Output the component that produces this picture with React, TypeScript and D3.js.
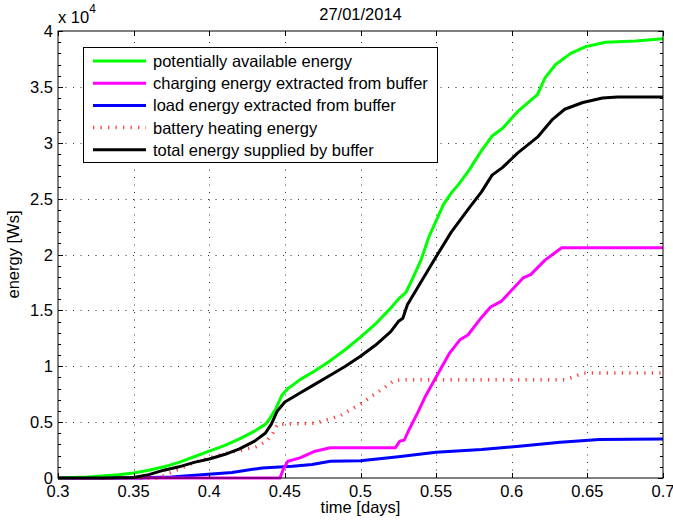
import React, { useEffect, useRef } from "react";
import * as d3 from "d3";

const W = 673;
const H = 525;
const margin = { top: 31, right: 10, bottom: 47, left: 58 };
const FONT = "'Liberation Sans', Arial, Helvetica, sans-serif";

// time [days] / energy [Ws]
const greenT = [0.3, 0.32, 0.34, 0.35, 0.36, 0.37, 0.38, 0.39, 0.4, 0.41, 0.42, 0.43, 0.437, 0.44, 0.444, 0.448, 0.452, 0.46, 0.47, 0.48, 0.49, 0.5, 0.51, 0.52, 0.525, 0.53, 0.535, 0.54, 0.545, 0.55, 0.555, 0.56, 0.565, 0.572, 0.58, 0.587, 0.594, 0.604, 0.617, 0.622, 0.629, 0.639, 0.649, 0.662, 0.682, 0.7];
const greenE = [0, 100, 300, 450, 700, 1000, 1400, 1900, 2400, 2900, 3500, 4200, 4800, 5300, 6200, 7400, 8000, 8800, 9600, 10500, 11500, 12600, 13800, 15200, 16000, 16600, 18000, 19500, 21500, 23000, 24500, 25500, 26300, 27600, 29300, 30600, 31300, 32800, 34300, 35800, 37000, 38000, 38600, 39000, 39100, 39300];

const blackT = [0.3, 0.33, 0.35, 0.36, 0.37, 0.38, 0.39, 0.4, 0.41, 0.42, 0.43, 0.437, 0.441, 0.445, 0.45, 0.46, 0.47, 0.48, 0.49, 0.5, 0.51, 0.52, 0.525, 0.528, 0.531, 0.538, 0.55, 0.56, 0.572, 0.58, 0.587, 0.594, 0.604, 0.617, 0.627, 0.635, 0.647, 0.66, 0.67, 0.7];
const blackE = [0, 0, 50, 300, 700, 1000, 1400, 1700, 2100, 2600, 3300, 4000, 4800, 6000, 6800, 7600, 8400, 9200, 10000, 10900, 11900, 13100, 14000, 14300, 15500, 17100, 19800, 22000, 24200, 25600, 27100, 27800, 29100, 30500, 32100, 33000, 33600, 34000, 34100, 34100];

const magentaT = [0.3, 0.4468, 0.449, 0.452, 0.46, 0.47, 0.48, 0.523, 0.526, 0.529, 0.532, 0.538, 0.5425, 0.549, 0.559, 0.566, 0.571, 0.579, 0.586, 0.593, 0.6075, 0.6125, 0.622, 0.633, 0.7];
const magentaE = [0, 0, 800, 1500, 1800, 2400, 2700, 2700, 3300, 3400, 4300, 5900, 7200, 8800, 11200, 12400, 12800, 14200, 15300, 15800, 17900, 18200, 19500, 20600, 20600];

const blueT = [0.3, 0.355, 0.36, 0.375, 0.395, 0.415, 0.435, 0.455, 0.468, 0.48, 0.5, 0.525, 0.55, 0.58, 0.605, 0.632, 0.658, 0.7];
const blueE = [0, 0, 50, 100, 300, 500, 900, 1050, 1200, 1500, 1550, 1900, 2300, 2550, 2850, 3200, 3450, 3500];

const redT = [0.3, 0.365, 0.37, 0.38, 0.39, 0.405, 0.418, 0.431, 0.438, 0.442, 0.445, 0.47, 0.48, 0.487, 0.493, 0.5, 0.506, 0.516, 0.522, 0.527, 0.635, 0.64, 0.647, 0.7];
const redE = [0, 0, 200, 800, 1400, 2000, 2400, 2800, 3300, 4000, 4800, 4900, 5300, 5600, 6100, 6600, 7200, 8100, 8700, 8800, 8800, 9000, 9400, 9400];

const xTicks = [0.3, 0.35, 0.4, 0.45, 0.5, 0.55, 0.6, 0.65, 0.7];
const xTickLabels = ["0.3", "0.35", "0.4", "0.45", "0.5", "0.55", "0.6", "0.65", "0.7"];
const yTicks = [0, 5000, 10000, 15000, 20000, 25000, 30000, 35000, 40000];
const yTickLabels = ["0", "0.5", "1", "1.5", "2", "2.5", "3", "3.5", "4"];

const seriesNames = [
  "potentially available energy",
  "charging energy extracted from buffer",
  "load energy extracted from buffer",
  "battery heating energy",
  "total energy supplied by buffer",
];
const seriesColors = ["#00ff00", "#ff00ff", "#0000ff", "#ff2020", "#000000"];

function draw(svgEl) {
  const svg = d3.select(svgEl);
  svg.selectAll("*").remove();

  const pw = W - margin.left - margin.right;
  const ph = H - margin.top - margin.bottom;

  const x = d3.scaleLinear().domain([0.3, 0.7]).range([margin.left, margin.left + pw]);
  const y = d3.scaleLinear().domain([0, 40000]).range([margin.top + ph, margin.top]);

  svg.append("rect").attr("width", W).attr("height", H).attr("fill", "#fff");

  // grid
  const grid = svg.append("g").attr("stroke", "#333").attr("stroke-width", 1).attr("stroke-dasharray", "1,6.5");
  xTicks.slice(1, -1).forEach(t => {
    grid.append("line")
      .attr("x1", Math.round(x(t)) + 0.5).attr("x2", Math.round(x(t)) + 0.5)
      .attr("y1", y(0)).attr("y2", y(40000));
  });
  yTicks.slice(1, -1).forEach(t => {
    grid.append("line")
      .attr("y1", Math.round(y(t)) + 0.5).attr("y2", Math.round(y(t)) + 0.5)
      .attr("x1", x(0.3)).attr("x2", x(0.7));
  });

  // series
  const line = d3.line().x(d => x(d[0])).y(d => y(d[1]));
  const series = [
    { t: greenT, e: greenE, c: seriesColors[0], dash: null },
    { t: magentaT, e: magentaE, c: seriesColors[1], dash: null },
    { t: blueT, e: blueE, c: seriesColors[2], dash: null },
    { t: redT, e: redE, c: seriesColors[3], dash: "1.3,6.2" },
    { t: blackT, e: blackE, c: seriesColors[4], dash: null },
  ];
  const drawOrder = [2, 1, 3, 0, 4];
  drawOrder.forEach(i => {
    const s = series[i];
    const pts = s.t.map((t, k) => [t, s.e[k]]);
    svg.append("path")
      .attr("d", line(pts))
      .attr("fill", "none")
      .attr("stroke", s.c)
      .attr("stroke-width", s.dash ? 3.5 : 3)
      .attr("stroke-linejoin", "round")
      .attr("stroke-dasharray", s.dash)
      .attr("opacity", s.dash ? 0.85 : 1);
  });

  // box + ticks
  const x0 = x(0.3), x1 = x(0.7), y0 = y(0), y1 = y(40000);
  const ax = svg.append("g").attr("stroke", "#000").attr("stroke-width", 1);
  ax.append("rect").attr("x", x0).attr("y", y1).attr("width", x1 - x0).attr("height", y0 - y1).attr("fill", "none");
  xTicks.forEach(t => {
    const px = Math.round(x(t)) + 0.5;
    ax.append("line").attr("x1", px).attr("x2", px).attr("y1", y0).attr("y2", y0 - 5);
    ax.append("line").attr("x1", px).attr("x2", px).attr("y1", y1).attr("y2", y1 + 5);
  });
  d3.range(0, 40001, 1000).forEach(t => {
    const py = Math.round(y(t)) + 0.5;
    const len = t % 5000 === 0 ? 5 : 3;
    ax.append("line").attr("x1", x0).attr("x2", x0 + len).attr("y1", py).attr("y2", py);
    ax.append("line").attr("x1", x1).attr("x2", x1 - len).attr("y1", py).attr("y2", py);
  });

  const txt = svg.append("g").attr("font-family", FONT).attr("font-size", 16.5).attr("fill", "#000");
  xTicks.forEach((t, i) => {
    txt.append("text").attr("x", x(t)).attr("y", y0 + 19).attr("text-anchor", "middle").text(xTickLabels[i]);
  });
  yTicks.forEach((t, i) => {
    txt.append("text").attr("x", x0 - 5).attr("y", y(t) + 6).attr("text-anchor", "end").text(yTickLabels[i]);
  });

  // exponent
  const ex = txt.append("text").attr("x", x0).attr("y", 23);
  ex.append("tspan").text("x 10");
  ex.append("tspan").attr("dy", -10).attr("font-size", 12).text("4");

  txt.append("text").attr("x", (x0 + x1) / 2).attr("y", 20).attr("text-anchor", "middle").text("27/01/2014");
  txt.append("text").attr("x", (x0 + x1) / 2).attr("y", 513).attr("text-anchor", "middle").text("time [days]");
  txt.append("text")
    .attr("transform", `translate(19, ${(y0 + y1) / 2}) rotate(-90)`)
    .attr("text-anchor", "middle")
    .text("energy [Ws]");

  // legend
  const lg = svg.append("g");
  lg.append("rect").attr("x", 83.5).attr("y", 47.5).attr("width", 354).attr("height", 115)
    .attr("fill", "#fff").attr("stroke", "#000").attr("stroke-width", 1);
  seriesNames.forEach((name, i) => {
    const ry = 61 + i * 22.2;
    lg.append("line")
      .attr("x1", 93).attr("x2", 146).attr("y1", ry).attr("y2", ry)
      .attr("stroke", seriesColors[i])
      .attr("stroke-width", i === 3 ? 3.5 : 3)
      .attr("stroke-dasharray", i === 3 ? "1.3,6.2" : null)
      .attr("opacity", i === 3 ? 0.85 : 1);
    lg.append("text").attr("x", 153).attr("y", ry + 6)
      .attr("font-family", FONT).attr("font-size", 16.5).text(name);
  });
}

export default function App() {
  const svgRef = useRef(null);
  useEffect(() => {
    draw(svgRef.current);
  }, []);
  return (
    <svg
      ref={svgRef}
      width={W}
      height={H}
      style={{ position: "absolute", left: 0, top: 0, display: "block" }}
    />
  );
}
